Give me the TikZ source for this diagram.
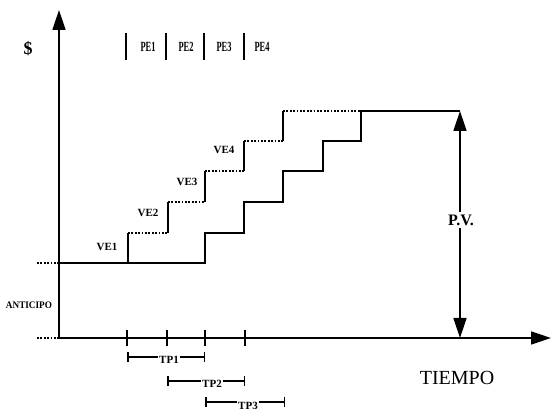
\documentclass[tikz,border=0pt]{standalone}
\usepackage{fontspec}
\setmainfont{Liberation Serif}
\usetikzlibrary{arrows.meta}
\begin{document}
\begin{tikzpicture}[x=1pt,y=-1pt,
  axis/.style={line width=1.5pt,-{Triangle[length=20pt,width=13pt]}},
  solidline/.style={line width=1.5pt},
  dotline/.style={line width=1.6pt,dash pattern=on 1.8pt off 1.6pt},
  tick/.style={line width=1.4pt},
  lab/.style={font=\fontsize{11}{12}\selectfont\bfseries,inner sep=1pt},
  pelab/.style={inner sep=0pt},
  tplab/.style={font=\fontsize{11}{12}\selectfont\bfseries,fill=white,inner sep=1pt},
  interval/.style={line width=1.5pt,{Bar[width=10pt]}-{Bar[width=10pt]}}]
\useasboundingbox (0,0) rectangle (552,411);
% axes
\coordinate (O) at (59,338);
\coordinate (ytip) at (59,10);
\coordinate (xtip) at (551,338);
\coordinate (xl) at (37,338);
\coordinate (bl) at (37,263);
\coordinate (b0) at (59,263);
\draw[axis] (O) -- (ytip);
\draw[axis] (O) -- (xtip);
\draw[dotline] (xl) -- (O);
\draw[dotline] (bl) -- (b0);
% ticks on x axis
\foreach \x/\n in {127/t1,167/t2,205/t3,245/t4}{
  \coordinate (\n) at (\x,338);
  \draw[tick] (\x,330) -- (\x,346);
}
% base line and solid steps
\draw[solidline] (b0) -- (205,263) -- (205,233) -- (244,233) -- (244,202) -- (283,202)
  -- (283,171) -- (323,171) -- (323,141) -- (361,141) -- (361,111) coordinate (top1) -- (460,111) coordinate (pvtop);
% dotted steps
\draw[solidline] (128,263) -- (128,233);
\draw[dotline] (128,233) -- (168,233);
\draw[solidline] (168,233) -- (168,202);
\draw[dotline] (168,202) -- (205,202);
\draw[solidline] (205,202) -- (205,171);
\draw[dotline] (205,171) -- (244,171);
\draw[solidline] (244,171) -- (244,141);
\draw[dotline] (244,141) -- (283,141);
\draw[solidline] (283,141) -- (283,111);
\draw[dotline] (283,111) -- (top1);
% PE bars and labels
\foreach \x in {126,166,204,244}{
  \draw[line width=1.4pt] (\x,33) -- (\x,60);
}
\foreach \x/\t in {148/PE1,186/PE2,224/PE3,262/PE4}{
  \node[pelab] (\t) at (\x,47) {\scalebox{0.6}[1]{\fontsize{14}{15}\selectfont\bfseries \t}};
}
% labels
\node[font=\fontsize{18}{19}\selectfont\bfseries] (dollar) at (28,49) {\$};
\node[lab] (ve1) at (107,247) {VE1};
\node[lab] (ve2) at (148,213) {VE2};
\node[lab] (ve3) at (187,182) {VE3};
\node[lab] (ve4) at (224,150) {VE4};
\node[font=\fontsize{10}{11}\selectfont\bfseries,inner sep=1pt] (anticipo) at (29,305) {\scalebox{0.92}[1]{ANTICIPO}};
\node[font=\fontsize{16}{17}\selectfont\bfseries,inner sep=2pt] (pv) at (461,220) {P.V.};
\coordinate (pvbot) at (460,338);
\draw[line width=1.5pt,-{Triangle[length=20pt,width=13pt]}] (pv.north -| pvtop) -- (pvtop);
\draw[line width=1.5pt,-{Triangle[length=20pt,width=13pt]}] (pv.south -| pvtop) -- (pvbot);
\node[font=\fontsize{20}{21}\selectfont] (tiempo) at (457,378) {TIEMPO};
% TP intervals
\draw[interval] (127,357) -- (205,357);
\node[tplab] (tp1) at (169,360) {TP1};
\draw[interval] (167,381) -- (245,381);
\node[tplab] (tp2) at (212,384) {TP2};
\draw[interval] (205,402) -- (285,402);
\node[tplab] (tp3) at (248,406) {TP3};
\end{tikzpicture}
\end{document}
